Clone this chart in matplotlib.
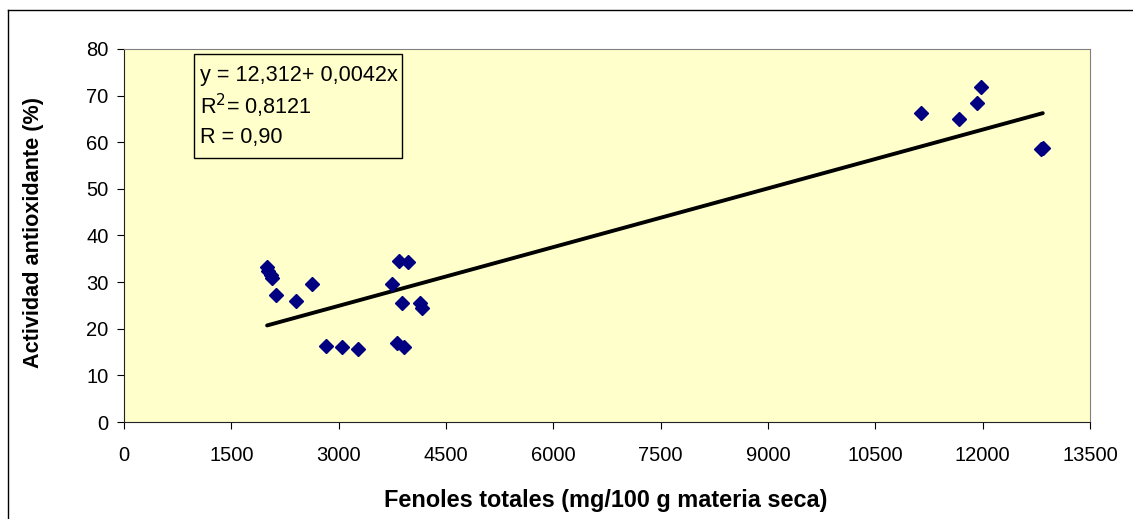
import numpy as np
import matplotlib
matplotlib.use("Agg")
import matplotlib.pyplot as plt
from matplotlib.lines import Line2D

plt.rcParams['font.family'] = ['Liberation Sans', 'DejaVu Sans']

# Fenoles totales (mg/100 g materia seca)
fenoles = [2000, 2015, 2050, 2075, 2120, 2400, 2625, 2820, 3045, 3265,
           3740, 3815, 3850, 3880, 3910, 3975, 4130, 4170,
           11140, 11670, 11920, 11975, 12820, 12840]
# Actividad antioxidante (%)
actividad = [33.2, 32.3, 31.5, 30.8, 27.2, 25.9, 29.7, 16.3, 16.0, 15.6,
             29.7, 16.9, 34.5, 25.5, 16.0, 34.4, 25.6, 24.4,
             66.2, 64.9, 68.4, 71.8, 58.5, 58.8]

# regression from the chart
a, b = 12.312, 0.0042
x_fit = [2000, 12840]

xticks = list(range(0, 13501, 1500))
yticks = list(range(0, 81, 10))

W, H = 1133, 519
fig = plt.figure(figsize=(W / 100, H / 100), dpi=100)
ax = fig.add_axes([124 / W, 1 - 422 / H, (1090 - 124) / W, (422 - 49) / H])
ax.set_facecolor('#FFFFCC')

ax.plot(x_fit, [a + b * v for v in x_fit], color='black', lw=2.8,
        solid_capstyle='round', zorder=2)
ax.plot(fenoles, actividad, linestyle='none', marker='D', ms=6.9,
        color='#000080', zorder=3)

ax.set_xlim(0, 13500)
ax.set_ylim(0, 80)
ax.set_xticks(xticks)
ax.set_yticks(yticks)
ax.tick_params(axis='x', direction='out', length=5, pad=12, labelsize=14.5)
ax.tick_params(axis='y', direction='out', length=5, pad=6, labelsize=14.5)
for s in ['top', 'right']:
    ax.spines[s].set_color('#808080')
for s in ['left', 'bottom']:
    ax.spines[s].set_color('#222222')

fs_box = 15.6
ax.text(200 / W, 1 - 75 / H, 'y = 12,312+ 0,0042x', transform=fig.transFigure,
        fontsize=fs_box, va='center')
ax.text(200 / W, 1 - 106 / H, 'R$^2$= 0,8121', transform=fig.transFigure,
        fontsize=fs_box, va='center')
ax.text(200 / W, 1 - 137 / H, 'R = 0,90', transform=fig.transFigure,
        fontsize=fs_box, va='center')
box = plt.Rectangle((194 / W, 1 - 158 / H), (402 - 194) / W, (158 - 54) / H,
                    transform=fig.transFigure, fill=False, ec='black', lw=1)
fig.add_artist(box)

fig.text(606 / W, 1 - 500 / H, 'Fenoles totales (mg/100 g materia seca)',
         ha='center', va='center', fontsize=16.9, fontweight='bold')
fig.text(34 / W, 1 - 233 / H, 'Actividad antioxidante (%)', rotation=90,
         ha='center', va='center', fontsize=15.6, fontweight='bold')

# outer chart border (left and top edges visible)
fig.add_artist(Line2D([8 / W, 8 / W], [0, 1 - 10 / H], color='black', lw=1,
                      transform=fig.transFigure))
fig.add_artist(Line2D([8 / W, 1], [1 - 10 / H, 1 - 10 / H], color='black', lw=1,
                      transform=fig.transFigure))

fig.savefig('out.png', dpi=100)
